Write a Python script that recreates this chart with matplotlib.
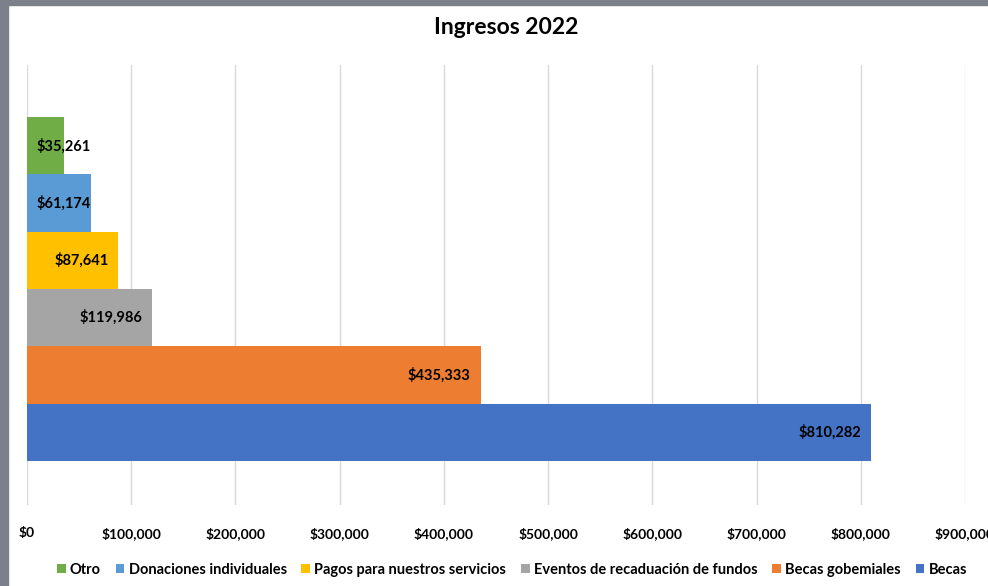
import matplotlib.pyplot as plt
from matplotlib.patches import Rectangle

plt.rcParams['font.family'] = ['Lato', 'DejaVu Sans']

# Datos (de abajo hacia arriba en el gráfico)
categorias = ['Becas', 'Becas gobemiales', 'Eventos de recaduación de fundos',
              'Pagos para nuestros servicios', 'Donaciones individuales', 'Otro']
valores = [810282, 435333, 119986, 87641, 61174, 35261]
colores = ['#4472C4', '#ED7D31', '#A5A5A5', '#FFC000', '#5B9BD5', '#70AD47']
ticks_x = [0, 100000, 200000, 300000, 400000, 500000, 600000, 700000, 800000, 900000]

fig = plt.figure(figsize=(9.88, 5.86), dpi=100)
fig.patch.set_facecolor('white')

# marco oscuro de la captura
fig.patches.append(Rectangle((0, 0), 8 / 988, 1, transform=fig.transFigure,
                             color='#7b808a', zorder=0))
fig.patches.append(Rectangle((0, 1 - 5 / 586), 1, 5 / 586, transform=fig.transFigure,
                             color='#7b808a', zorder=0))

ax = fig.add_axes([27 / 988, 1 - 505 / 586, 938 / 988, 440 / 586])
ax.set_facecolor('none')

for i, (cat, val, col) in enumerate(zip(categorias, valores, colores)):
    ax.barh(i, val, height=1.0, color=col, label=cat, zorder=2)

ax.set_xlim(0, 900000)
ax.set_ylim(-1.27, 6.41)
ax.set_xticks(ticks_x)
ax.set_xticklabels([f'${t:,.0f}' for t in ticks_x], fontsize=10, fontweight='bold')
ax.set_yticks([])
ax.tick_params(axis='x', length=0, pad=16)
ax.grid(axis='x', color='#d9d9d9', linewidth=1, zorder=0)
for s in ax.spines.values():
    s.set_visible(False)

# etiquetas de datos (extremo interior)
etiquetas = []
for i, val in enumerate(valores):
    t = ax.annotate(f'${val:,.0f}', (val, i), xytext=(-10, 0), textcoords='offset pixels',
                    ha='right', va='center', fontsize=10.5, fontweight='bold', zorder=3)
    etiquetas.append((t, i))

fig.canvas.draw()
x_min = ax.transData.transform((0, 0))[0] + 10
for t, i in etiquetas:
    bb = t.get_window_extent()
    if bb.x0 < x_min:
        t.xy = (0, i)
        t.set_position((10, 0))
        t.set_ha('left')

fig.text(506 / 988, 1 - 28 / 586, 'Ingresos 2022', ha='center', va='center',
         fontsize=16.5, fontweight='bold')

h, l = ax.get_legend_handles_labels()
fig.legend(h[::-1], l[::-1], loc='center', bbox_to_anchor=(512 / 988, 1 - 570 / 586),
           ncol=6, frameon=False, handlelength=0.6, handleheight=0.6,
           handletextpad=0.3, columnspacing=1.0, prop={'weight': 'bold', 'size': 10.5})

fig.savefig('out.png', dpi=100)
